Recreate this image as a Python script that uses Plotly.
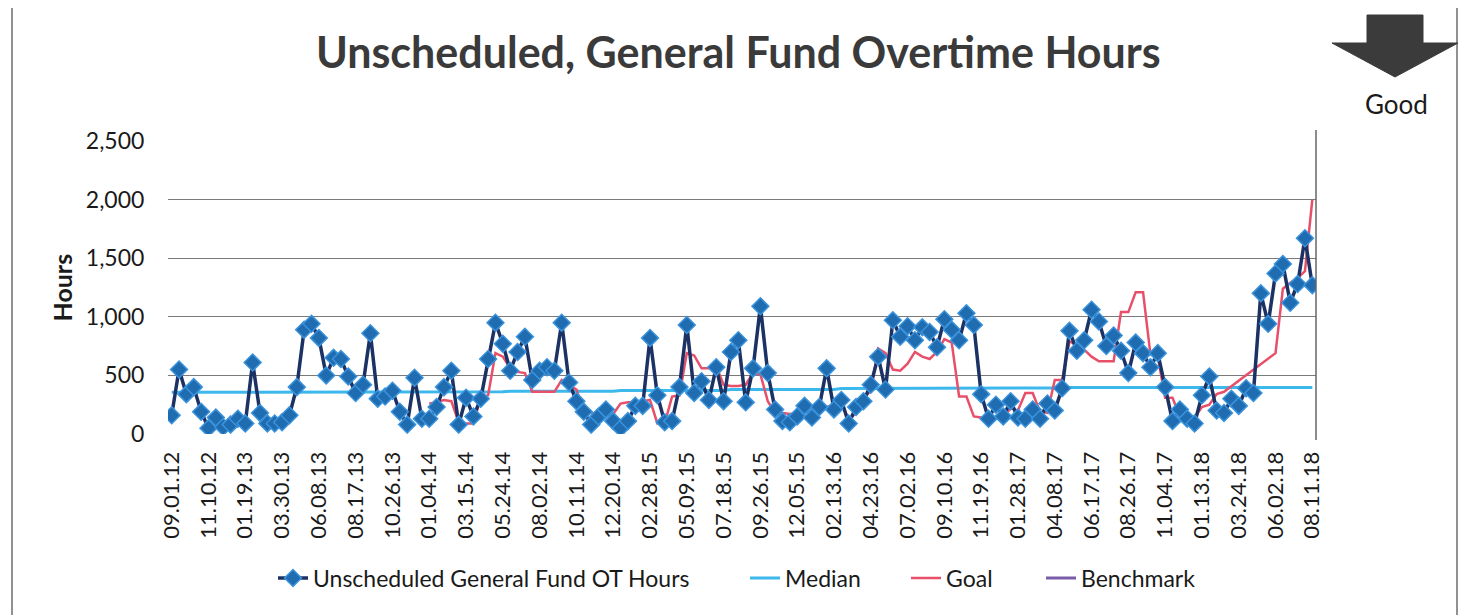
import plotly.graph_objects as go

# ---------------- data ----------------
tick_labels = ["09.01.12", "11.10.12", "01.19.13", "03.30.13", "06.08.13", "08.17.13",
               "10.26.13", "01.04.14", "03.15.14", "05.24.14", "08.02.14", "10.11.14",
               "12.20.14", "02.28.15", "05.09.15", "07.18.15", "09.26.15", "12.05.15",
               "02.13.16", "04.23.16", "07.02.16", "09.10.16", "11.19.16", "01.28.17",
               "04.08.17", "06.17.17", "08.26.17", "11.04.17", "01.13.18", "03.24.18",
               "06.02.18", "08.11.18"]

ot_hours = [160, 550, 340, 400, 190, 50, 140, 60, 80, 130,
            90, 610, 180, 90, 90, 100, 160, 400, 890, 940,
            820, 500, 650, 640, 490, 350, 420, 860, 300, 320,
            370, 190, 80, 480, 130, 130, 230, 400, 540, 80,
            310, 150, 300, 640, 950, 770, 540, 700, 830, 460,
            540, 570, 540, 950, 440, 280, 190, 80, 150, 210,
            110, 50, 110, 240, 240, 820, 330, 100, 110, 400,
            930, 350, 450, 290, 570, 280, 700, 800, 270, 560,
            1090, 520, 210, 110, 100, 150, 240, 140, 230, 560,
            210, 290, 90, 230, 280, 420, 660, 380, 970, 830,
            920, 800, 910, 870, 740, 980, 890, 800, 1030, 930,
            340, 130, 250, 150, 280, 140, 130, 210, 130, 260,
            200, 390, 880, 710, 800, 1060, 960, 750, 840, 710,
            520, 780, 690, 570, 690, 400, 110, 210, 130, 90,
            330, 490, 200, 180, 300, 240, 390, 350, 1200, 940,
            1370, 1450, 1120, 1280, 1670, 1270]

median = [356, 356, 356, 356, 356, 356, 356, 356, 356, 356,
          356, 356, 356, 356, 356, 356, 356, 356, 356, 356,
          356, 356, 356, 356, 356, 356, 360, 360, 360, 360,
          360, 360, 360, 360, 360, 360, 360, 360, 360, 360,
          360, 360, 360, 360, 360, 360, 365, 365, 365, 365,
          365, 365, 365, 365, 365, 365, 365, 365, 365, 365,
          365, 372, 372, 372, 372, 372, 372, 372, 372, 372,
          372, 372, 372, 372, 372, 372, 380, 380, 380, 380,
          380, 380, 380, 380, 380, 380, 380, 380, 380, 380,
          380, 388, 388, 388, 388, 388, 388, 388, 388, 388,
          388, 388, 388, 388, 388, 388, 393, 393, 393, 393,
          393, 393, 393, 393, 393, 393, 393, 393, 393, 393,
          393, 397, 397, 397, 397, 397, 397, 397, 397, 397,
          397, 397, 397, 397, 397, 397, 397, 397, 397, 397,
          397, 397, 397, 397, 397, 397, 397, 397, 397, 397,
          397, 397, 397, 397, 397, 397]

goal = [None, None, None, None, None, None, None, None, None, None,
        None, None, None, None, None, None, None, None, None, None,
        None, None, None, None, None, None, None, None, None, None,
        None, None, None, None, None, 260, 270, 290, 280, 100,
        90, 90, 310, 330, 690, 660, 560, 530, 520, 360,
        360, 360, 360, 460, 420, 380, 200, 180, 170, 160,
        170, 260, 270, 270, 280, 290, 90, 90, 320, 330,
        690, 670, 560, 560, 580, 420, 410, 410, 420, 520,
        510, 280, 180, 180, 170, 180, 200, 210, 220, 230,
        250, 270, 120, 180, 300, 370, 730, 690, 550, 540,
        600, 700, 660, 640, 700, 810, 780, 320, 320, 150,
        140, 130, 130, 140, 220, 200, 350, 350, 190, 180,
        460, 460, 790, 760, 720, 660, 620, 620, 620, 1040,
        1040, 1210, 1210, 680, 660, 310, 310, 150, 140, 140,
        230, 250, 340, 360, None, None, None, None, None, None,
        690, 1240, 1290, 1330, 1390, 2000]

benchmark = [None] * len(ot_hours)

n = len(ot_hours)
periods = list(range(n))
tick_positions = periods[::5]

# ---------------- layout geometry (pixels) ----------------
# the page body adds an 8px margin, so the figure is drawn 8px smaller
OFF = 8
W, H = 1468 - OFF, 615 - OFF
L = 168 - OFF
T = 141 - OFF
R = W - (1316 - OFF)
B = H - (434 - OFF)
PW, PH = W - L - R, H - T - B


def px(x):
    """reference screenshot x -> paper x"""
    return (x - OFF - L) / PW


def py(y):
    """reference screenshot y -> paper y"""
    return (T + PH - (y - OFF)) / PH


FONT = "Lato"

fig = go.Figure()

fig.add_trace(go.Scatter(
    x=periods, y=median, mode="lines", name="Median",
    line=dict(color="#3db8ec", width=3),
    legend="legend2",
))
fig.add_trace(go.Scatter(
    x=periods, y=goal, mode="lines", name="Goal", connectgaps=True,
    line=dict(color="#e8506a", width=2.5),
    legend="legend3",
))
fig.add_trace(go.Scatter(
    x=periods, y=benchmark, mode="lines", name="Benchmark",
    line=dict(color="#7a5ca8", width=3),
    legend="legend4",
))
fig.add_trace(go.Scatter(
    x=periods, y=ot_hours, mode="lines+markers",
    name="Unscheduled General Fund OT Hours",
    line=dict(color="#1c3264", width=3.5),
    marker=dict(symbol="diamond", size=13, color="#1f6db0",
                line=dict(color="#3a92dc", width=1.5)),
    legend="legend",
))

legend_common = dict(orientation="h", yanchor="middle", xanchor="left",
                     bgcolor="rgba(0,0,0,0)", font=dict(family=FONT, size=23, color="#1a1a1a"),
                     itemwidth=30)

shapes = [
    # outer frame
    dict(type="rect", xref="paper", yref="paper", x0=px(12), x1=px(1457), y0=py(640), y1=py(4),
         line=dict(color="#6e6e6e", width=1.5)),
    # right border of plot area
    dict(type="line", xref="paper", yref="paper", x0=1, x1=1, y0=py(440), y1=py(130),
         line=dict(color="#666666", width=1.5)),
    # "Good" arrow
    dict(type="path", xref="paper", yref="paper",
         path=("M {a},{t} L {b},{t} L {b},{m} L {hr},{m} L {tx},{ty} L {hl},{m} L {a},{m} Z").format(
             a=px(1367), b=px(1423), t=py(15), m=py(43), hr=px(1458), hl=px(1332),
             tx=px(1395), ty=py(77)),
         fillcolor="#3b3b3b", line=dict(color="#3b3b3b", width=1)),
]

annotations = [
    dict(text="<b>Unscheduled, General Fund Overtime Hours</b>", xref="paper", yref="paper",
         x=px(738), y=py(52), xanchor="center", yanchor="middle", showarrow=False,
         font=dict(family=FONT, size=43, color="#3a3a3a")),
    dict(text="Good", xref="paper", yref="paper", x=px(1396), y=py(104),
         xanchor="center", yanchor="middle", showarrow=False,
         font=dict(family=FONT, size=26, color="#1a1a1a")),
    dict(text="<b>Hours</b>", xref="paper", yref="paper", x=px(61), y=0.5, textangle=-90,
         xanchor="center", yanchor="middle", showarrow=False,
         font=dict(family=FONT, size=25, color="#1a1a1a")),
]

fig.update_layout(
    width=W, height=H,
    margin=dict(l=L, r=R, t=T, b=B),
    paper_bgcolor="white", plot_bgcolor="white",
    font=dict(family=FONT, color="#1a1a1a"),
    showlegend=True,
    legend=dict(x=px(273), y=py(578), **legend_common),
    legend2=dict(x=px(745), y=py(578), **legend_common),
    legend3=dict(x=px(906), y=py(578), **legend_common),
    legend4=dict(x=px(1041), y=py(578), **legend_common),
    shapes=shapes,
    annotations=annotations,
    xaxis=dict(
        range=[-0.5, n - 0.5], tickmode="array", tickvals=tick_positions, ticktext=tick_labels,
        tickangle=-90, showgrid=False, zeroline=False, showline=False,
        ticks="outside", ticklen=8, tickcolor="rgba(0,0,0,0)",
        tickfont=dict(family=FONT, size=22, color="#1a1a1a"),
    ),
    yaxis=dict(
        range=[0, 2500], tickmode="array", tickvals=[0, 500, 1000, 1500, 2000, 2500],
        tickformat=",", showgrid=True, gridcolor="#7a7a7a", gridwidth=1.2,
        zeroline=False, showline=False,
        ticks="outside", ticklen=18, tickcolor="rgba(0,0,0,0)",
        tickfont=dict(family=FONT, size=23, color="#1a1a1a"),
    ),
)

fig.write_html("out.html")
